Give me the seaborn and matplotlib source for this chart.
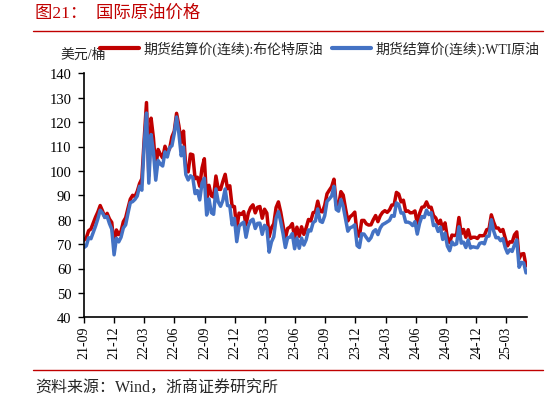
import matplotlib
matplotlib.use('Agg')
import matplotlib.pyplot as plt
import matplotlib.dates as mdates
from matplotlib.lines import Line2D
import pandas as pd
import seaborn as sns

# weekly settlement prices (USD/bbl), one value per week from 2021-09-01
brent_2021 = [71.6, 72.6, 75.5, 76.2, 78.6, 81.1, 83.2, 85.8, 83.6, 81.0, 82.6, 80.3, 78.9, 68.9, 75.8, 73.9, 75.3, 79.2]
wti_2021 = [68.6, 69.3, 72.6, 72.2, 74.8, 77.4, 80.4, 83.9, 82.7, 80.9, 81.3, 78.4, 76.1, 65.6, 72.4, 70.9, 72.8, 76.6]

brent_2022 = [80.8, 84.7, 88.4, 90.0, 89.5, 91.6, 94.8, 96.8, 112.9, 128.0, 98.0, 121.6, 113.5,
              101.1, 108.8, 106.8, 105.3, 110.1, 107.5, 109.1, 114.0, 116.3, 123.6, 118.5, 111.7, 116.3,
              100.7, 99.6, 106.9, 106.6, 96.8, 97.4, 93.7, 101.2, 105.0, 88.0, 94.1, 89.8, 89.3,
              97.9, 92.5, 92.4, 95.7, 98.6, 92.7, 93.9, 85.4, 85.4, 76.1, 82.7, 82.2, 83.3]
wti_2022 = [77.9, 82.6, 87.0, 87.4, 88.3, 89.7, 93.7, 92.1, 110.6, 123.7, 95.0, 114.9, 107.8,
            96.2, 104.3, 102.8, 102.0, 107.8, 105.7, 109.6, 110.3, 115.3, 122.1, 115.3, 106.2, 109.8,
            98.5, 96.3, 98.0, 97.3, 90.7, 91.9, 88.1, 95.0, 97.0, 81.9, 88.5, 82.9, 82.2,
            92.6, 87.3, 85.5, 87.9, 92.6, 85.8, 85.6, 77.9, 80.6, 71.0, 77.3, 78.3, 79.0]

brent_2023 = [77.8, 82.7, 85.0, 86.1, 82.8, 85.1, 85.4, 80.6, 84.3, 82.7, 73.0, 76.7, 78.3,
              85.0, 87.3, 83.1, 77.7, 72.3, 76.4, 77.0, 78.4, 72.6, 76.95, 73.2, 77.1, 74.0,
              76.7, 80.1, 79.5, 82.9, 83.2, 87.6, 83.5, 83.2, 85.9, 90.6, 92.1, 93.5, 96.6,
              85.8, 85.8, 91.5, 90.1, 84.6, 79.5, 81.2, 82.0, 83.1, 74.3, 73.2, 79.7, 79.7]
wti_2023 = [72.8, 77.4, 79.5, 80.2, 76.4, 78.5, 78.6, 74.0, 77.7, 76.7, 66.7, 70.9, 73.0,
            80.6, 83.3, 79.2, 74.3, 68.6, 72.6, 72.8, 74.3, 68.1, 72.5, 68.3, 72.5, 69.6,
            71.8, 75.8, 75.4, 78.8, 79.5, 84.4, 79.4, 78.9, 81.6, 87.5, 88.5, 89.7, 93.7,
            84.2, 83.5, 88.3, 85.4, 80.4, 75.3, 76.7, 77.1, 77.9, 69.4, 68.6, 74.2, 74.1]

brent_2024 = [78.3, 77.8, 77.9, 80.0, 81.7, 79.2, 81.6, 83.0, 83.7, 83.0, 84.0, 86.0, 86.1,
              91.2, 90.5, 87.3, 88.0, 83.4, 83.6, 82.8, 82.9, 83.6, 78.4, 82.6, 85.1, 85.3,
              87.3, 85.1, 85.1, 81.7, 80.7, 78.3, 79.8, 76.1, 78.7, 72.7, 70.6, 73.7, 73.5,
              73.9, 80.9, 74.2, 76.0, 72.8, 75.9, 72.3, 72.8, 72.8, 72.3, 73.5, 73.4, 73.6]
wti_2024 = [72.7, 71.4, 72.6, 75.1, 75.9, 73.9, 76.6, 78.0, 78.5, 79.1, 79.7, 81.7, 81.4,
            86.9, 86.2, 82.7, 82.8, 79.0, 79.0, 78.6, 77.6, 79.2, 74.1, 78.5, 81.3, 80.9,
            83.9, 82.1, 82.9, 77.6, 77.9, 75.2, 77.0, 71.9, 74.5, 69.2, 67.3, 70.9, 69.7,
            70.1, 77.1, 70.4, 70.8, 68.6, 71.7, 68.4, 68.9, 68.7, 68.5, 70.3, 70.6, 70.1]

brent_2025 = [75.9, 76.2, 82.0, 79.0, 76.6, 76.6, 75.2, 76.0, 72.5, 69.3, 70.95, 70.8, 73.8,
              75.0, 64.0, 65.9, 66.1, 61.1]
wti_2025 = [73.1, 73.3, 80.0, 75.4, 72.6, 72.7, 71.4, 72.3, 68.6, 66.3, 67.7, 67.0, 69.7,
            71.7, 60.5, 62.5, 62.3, 58.2]

brent = brent_2021 + brent_2022 + brent_2023 + brent_2024 + brent_2025
wti = wti_2021 + wti_2022 + wti_2023 + wti_2024 + wti_2025

label_brent = '期货结算价(连续):布伦特原油'
label_wti = '期货结算价(连续):WTI原油'
yticks = list(range(40, 141, 10))

red = '#C00000'
blue = '#4472C4'

n = len(brent)
dates = pd.date_range('2021-09-01', periods=n, freq='7D')
df = pd.DataFrame({
    'date': list(dates) * 2,
    'price': brent + wti,
    'series': [label_brent] * n + [label_wti] * n,
})

sns.set_style('ticks')
plt.rcParams['font.family'] = ['Liberation Serif', 'Noto Sans CJK SC']
plt.rcParams['axes.unicode_minus'] = False

fig = plt.figure(figsize=(5.48, 4.02), dpi=100)
ax = fig.add_axes([84 / 548, 1 - 318.3 / 402, (526.7 - 84) / 548, (318.3 - 74.3) / 402])

sns.lineplot(data=df, x='date', y='price', hue='series', palette=[red, blue],
             linewidth=2.5, ax=ax)

handles, labels = ax.get_legend_handles_labels()
ax.get_legend().remove()
leg = fig.legend(handles, labels, loc='center left', bbox_to_anchor=(100 / 548, 1 - 49 / 402),
                 ncol=2, frameon=False, fontsize=10, handlelength=2.8, handletextpad=0.35,
                 columnspacing=0.6, borderpad=0, borderaxespad=0)
for line in leg.get_lines():
    line.set_linewidth(3)

ax.set_ylim(40, 140)
ax.set_yticks(yticks)
ax.set_xlim(pd.Timestamp('2021-09-01'), pd.Timestamp('2025-05-02'))
ax.xaxis.set_major_locator(mdates.MonthLocator(bymonth=[3, 6, 9, 12]))
ax.xaxis.set_major_formatter(mdates.DateFormatter('%y-%m'))
plt.setp(ax.get_xticklabels(), rotation=90)
ax.tick_params(axis='x', direction='out', length=4, width=1, pad=2, labelsize=10, colors='black')
ax.tick_params(axis='y', direction='out', length=4, width=1, pad=5, labelsize=10.5, colors='black')
ax.set_xlabel('')
ax.set_ylabel('')
sns.despine(ax=ax)
for s in ['left', 'bottom']:
    ax.spines[s].set_color('black')
    ax.spines[s].set_linewidth(1.2)

# title, unit, source and the two red rules
fig.text(35 / 548, 1 - 14 / 402, '图21：  国际原油价格', color=red, fontsize=12.5, va='center')
fig.text(60 / 548, 1 - 55 / 402, '美元/桶', fontsize=10, va='center')
fig.text(35 / 548, 1 - 389 / 402, '资料来源：Wind，浙商证券研究所', fontsize=11.5, va='center')
fig.add_artist(Line2D([33 / 548, 543 / 548], [1 - 31.7 / 402] * 2, color=red, lw=1))
fig.add_artist(Line2D([33 / 548, 543 / 548], [1 - 371 / 402] * 2, color=red, lw=1))

fig.savefig('out.png', dpi=100)
